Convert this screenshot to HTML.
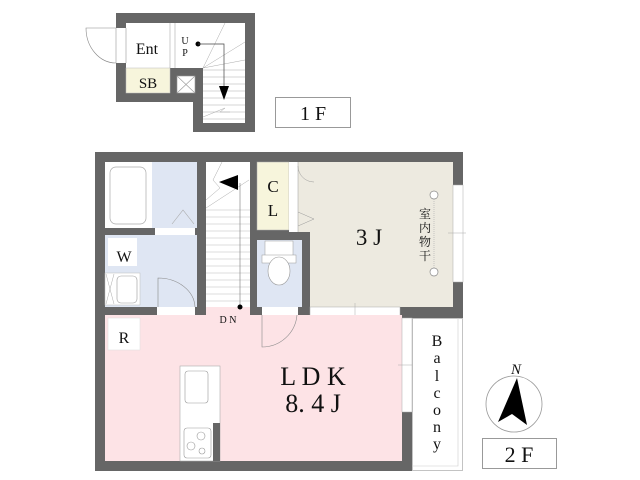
<!DOCTYPE html><html><head><style>body{margin:0;background:#fff}svg{display:block}text{font-family:"Liberation Serif","Noto Serif CJK SC",serif;fill:#111}</style></head><body>
<svg width="640" height="480" viewBox="0 0 640 480" xmlns="http://www.w3.org/2000/svg">
<!-- 1F -->
<path d="M116 13H255V132H193V102H116Z" fill="#666"/>
<rect x="126" y="23" width="119" height="45" fill="#fff"/>
<rect x="203" y="23" width="42" height="100" fill="#fff"/>
<rect x="126" y="68" width="44" height="25" fill="#f7f5dc" stroke="#bbb" stroke-width=".5"/>
<rect x="177" y="76" width="18" height="17" fill="#fff" stroke="#999" stroke-width=".6"/>
<path d="M177 76L195 93M195 76L177 93" stroke="#999" stroke-width=".6"/>
<rect x="116" y="28" width="10" height="35" fill="#fff"/>
<path d="M116 28V63M126 28V63" stroke="#999" stroke-width=".6"/>
<path d="M116 28H86A30 35 0 0 0 116 63" fill="none" stroke="#888" stroke-width=".6"/>
<path d="M170 23V68M175 23V68" stroke="#aaa" stroke-width=".6"/>
<path d="M203 70H245M203 77H245M203 84H245M203 91H245M203 98H245M203 105H245M203 112H245M203 119H245" stroke="#aaa" stroke-width=".5"/>
<path d="M203 68L225 23M203 68L245 42M203 68L245 60M203 117L225 108L220 112L230 112" stroke="#aaa" stroke-width=".5" fill="none"/>
<circle cx="198" cy="44" r="2.5" fill="#000"/>
<path d="M198 44H224V90" stroke="#444" stroke-width=".7" fill="none"/>
<path d="M219 86H229L224 100Z" fill="#000"/>
<text x="147" y="54" font-size="16" text-anchor="middle">Ent</text>
<text x="148" y="88" font-size="15" text-anchor="middle">SB</text>
<text x="185" y="44" font-size="10" text-anchor="middle">U</text>
<text x="185" y="56" font-size="10" text-anchor="middle">P</text>
<rect x="275.5" y="97.5" width="75" height="30" fill="#fff" stroke="#999"/>
<text x="313" y="120" font-size="20" text-anchor="middle">1 F</text>
<!-- 2F walls -->
<rect x="95" y="152" width="368" height="166" fill="#666"/>
<rect x="95" y="318" width="317" height="153" fill="#666"/>
<!-- rooms -->
<rect x="105" y="162" width="47" height="66" fill="#fff"/>
<rect x="152" y="162" width="45" height="66" fill="#dfe6f3"/>
<rect x="110" y="167" width="36" height="57" rx="6" fill="#fff" stroke="#aaa" stroke-width=".7"/>
<path d="M172 224L183 210L194 224" fill="none" stroke="#aaa" stroke-width=".6"/>
<rect x="155" y="228" width="40" height="7" fill="#fff"/>
<rect x="105" y="235" width="92" height="72" fill="#dfe6f3"/>
<rect x="108" y="238" width="29" height="28" fill="#fff"/>
<rect x="105" y="273" width="35" height="32" fill="#fff" stroke="#bbb" stroke-width=".5"/>
<rect x="117" y="276" width="20" height="27" rx="4" fill="#fff" stroke="#999" stroke-width=".6"/>
<path d="M106 274L114 304M114 274L106 304" stroke="#aaa" stroke-width=".5"/>
<rect x="157" y="307" width="38" height="8" fill="#fff"/>
<path d="M158 307V278A37 30 0 0 1 195 307" fill="none" stroke="#888" stroke-width=".6"/>
<rect x="206" y="162" width="44" height="153" fill="#fff"/>
<path d="M206 210H250M206 217H250M206 224H250M206 231H250M206 238H250M206 245H250M206 252H250M206 259H250M206 266H250M206 273H250M206 280H250M206 287H250M206 294H250M206 301H250" stroke="#bbb" stroke-width=".5"/>
<path d="M206 208L249 180M222 162L213 180L220 188L206 200" stroke="#aaa" stroke-width=".5" fill="none"/>
<path d="M219 182L238 175V190Z" fill="#000"/>
<path d="M240 183V307" stroke="#777" stroke-width=".6"/>
<rect x="257" y="162" width="32" height="68" fill="#f7f5dc" stroke="#aaa" stroke-width=".5"/>
<rect x="289" y="162" width="9" height="70" fill="#fff"/>
<path d="M310 162H453V307H310V232H298V162Z" fill="#edeae0"/>
<path d="M298 162V232" stroke="#999" stroke-width=".5"/>
<path d="M298 166A16 16 0 0 0 314 182M298 212L314 219L298 226" fill="none" stroke="#999" stroke-width=".5"/>
<rect x="257" y="240" width="45" height="67" fill="#dfe6f3"/>
<rect x="265" y="241" width="28" height="17" fill="#fff" stroke="#999" stroke-width=".5"/>
<rect x="262" y="255" width="34" height="8" fill="#fff" stroke="#999" stroke-width=".5"/>
<ellipse cx="279" cy="271" rx="11" ry="14" fill="#fff" stroke="#999" stroke-width=".6"/>
<rect x="262" y="307" width="36" height="8" fill="#fff"/>
<rect x="310" y="307" width="90" height="10" fill="#fff" stroke="#aaa" stroke-width=".5"/>
<path d="M355 303V320" stroke="#aaa" stroke-width=".5"/>
<rect x="453" y="185" width="10" height="97" fill="#fff" stroke="#aaa" stroke-width=".5"/>
<path d="M448 233H466" stroke="#aaa" stroke-width=".5"/>
<!-- LDK -->
<rect x="105" y="315" width="297" height="146" fill="#fde3e6"/>
<rect x="206" y="307" width="44" height="9" fill="#fde3e6"/>
<circle cx="240" cy="307" r="2.5" fill="#000"/>
<path d="M262 315V347A35 35 0 0 0 297 315" fill="none" stroke="#888" stroke-width=".6"/>
<rect x="108" y="318" width="32" height="32" fill="#fff" stroke="#ddd" stroke-width=".5"/>
<rect x="180" y="366" width="40" height="95" fill="#fff" stroke="#aaa" stroke-width=".6"/>
<rect x="185" y="371" width="23" height="32" rx="3" fill="#fff" stroke="#999" stroke-width=".6"/>
<rect x="184" y="428" width="27" height="30" rx="3" fill="#fff" stroke="#999" stroke-width=".6"/>
<circle cx="201" cy="436" r="4" fill="none" stroke="#999" stroke-width=".6"/>
<circle cx="191" cy="446" r="4" fill="none" stroke="#999" stroke-width=".6"/>
<circle cx="202" cy="451" r="3" fill="none" stroke="#999" stroke-width=".6"/>
<rect x="213" y="423" width="7" height="38" fill="#666"/>
<rect x="402" y="318" width="10" height="94" fill="#fff" stroke="#aaa" stroke-width=".5"/>
<path d="M398 365H416" stroke="#aaa" stroke-width=".5"/>
<rect x="412.5" y="318.5" width="50" height="152" fill="#fff" stroke="#aaa" stroke-width=".7"/>
<path d="M458 318V466H412" fill="none" stroke="#ccc" stroke-width=".6"/>
<!-- labels -->
<text x="124" y="262" font-size="16" text-anchor="middle">W</text>
<text x="124" y="343" font-size="16" text-anchor="middle">R</text>
<text x="273" y="192" font-size="17" text-anchor="middle">C</text>
<text x="273" y="216" font-size="17" text-anchor="middle">L</text>
<text x="228" y="323" font-size="10" text-anchor="middle">D N</text>
<text x="369" y="245" font-size="23" text-anchor="middle">3 J</text>
<circle cx="434" cy="195" r="4" fill="#fff" stroke="#888" stroke-width=".7"/>
<circle cx="434" cy="272" r="4" fill="#fff" stroke="#888" stroke-width=".7"/>
<path d="M434 199V268" stroke="#aaa" stroke-width=".6" stroke-dasharray="1 1"/>
<rect x="418" y="205" width="14" height="60" fill="#edeae0"/>
<text font-size="12" text-anchor="middle"><tspan x="425" y="218">室</tspan><tspan x="425" y="232">内</tspan><tspan x="425" y="246">物</tspan><tspan x="425" y="260">干</tspan></text>
<text x="313" y="385" font-size="26" text-anchor="middle">L D K</text>
<text x="313" y="412" font-size="26" text-anchor="middle">8. 4 J</text>
<text font-size="16" text-anchor="middle"><tspan x="437" y="346">B</tspan><tspan x="437" y="363">a</tspan><tspan x="437" y="381">l</tspan><tspan x="437" y="398">c</tspan><tspan x="437" y="415">o</tspan><tspan x="437" y="432">n</tspan><tspan x="437" y="449">y</tspan></text>
<!-- compass -->
<circle cx="514" cy="404" r="28" fill="#fff" stroke="#999" stroke-width=".8"/>
<path d="M517 378L498 422L512 414L527 425Z" fill="#000"/>
<text x="516" y="374" font-size="15" font-style="italic" text-anchor="middle">N</text>
<rect x="482.5" y="438.5" width="74" height="30" fill="#fff" stroke="#999"/>
<text x="519" y="462" font-size="22" text-anchor="middle">2 F</text>
</svg>
</body></html>
